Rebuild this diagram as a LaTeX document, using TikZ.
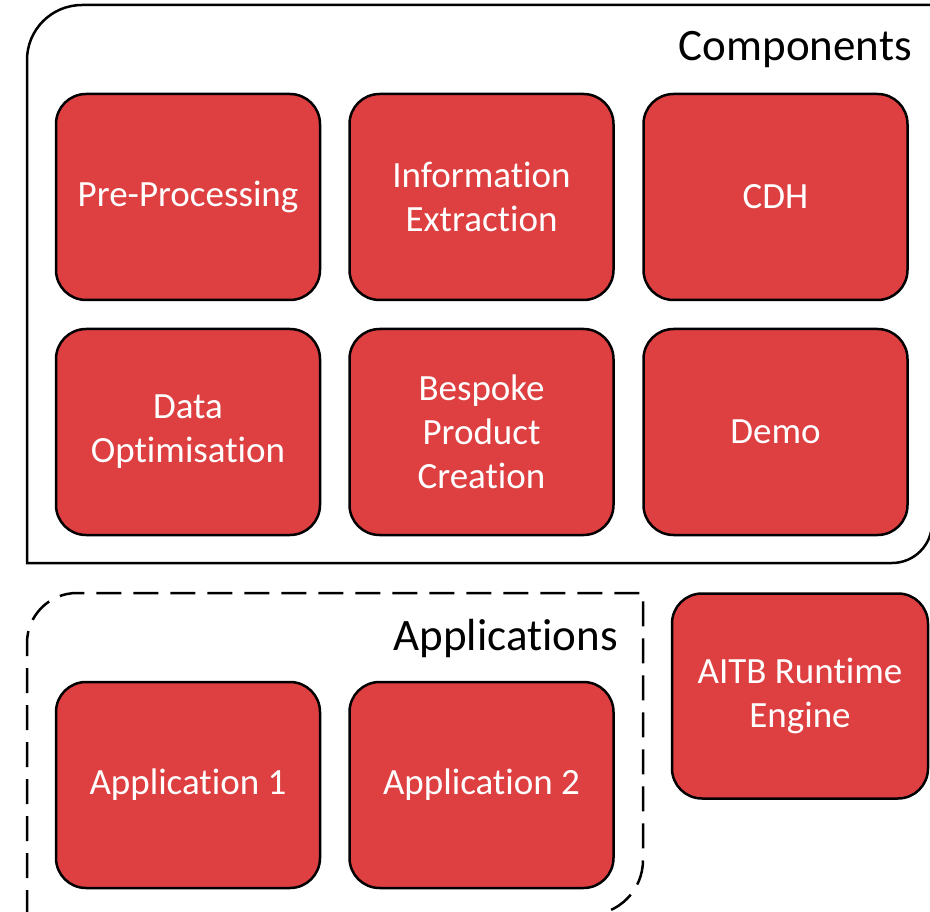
\documentclass[tikz,border=0pt]{standalone}
\usepackage{fontspec}
\setmainfont{Carlito}[Ligatures={CommonOff}, RawFeature={-calt}]
\definecolor{boxred}{RGB}{222,64,65}
\tikzset{
  compbox/.style={draw=black, fill=boxred, line width=2.5pt, rounded corners=30pt,
    minimum width=264pt, minimum height=206pt, inner sep=0pt, text=white, align=center,
    font=\fontsize{37}{44}\selectfont},
  grouptitle/.style={anchor=base east, inner sep=0pt, text=black,
    font=\fontsize{45}{54}\selectfont},
  groupline/.style={line width=2.5pt, draw=black},
}
\begin{document}
\begin{tikzpicture}[x=1pt, y=-1pt]
\useasboundingbox (0,0) rectangle (930,912);
\clip (0,0) rectangle (930,912);
% Components container
\draw[groupline] (27,563) -- (27,60) arc[start angle=180, end angle=270, radius=55]
  -- (932,5) -- (932,523) arc[start angle=0, end angle=90, radius=40] -- cycle;
\node[grouptitle] (comptitle) at (912,61) {Components};
% Applications container
\draw[groupline, dash pattern=on 25pt off 12pt] (27,915) -- (27,643)
  arc[start angle=180, end angle=270, radius=50]
  -- (643,593) -- (643,860) arc[start angle=0, end angle=90, radius=55] -- cycle;
\node[grouptitle] (apptitle) at (618,650) {Applications};
% Component boxes
\node[compbox] (pre)  at (188,197) {Pre-Processing};
\node[compbox] (info) at (481.5,197) {Information\\Extraction};
\node[compbox] (cdh)  at (775.5,197) {CDH};
\node[compbox] (dopt) at (188,432) {Data\\Optimisation};
\node[compbox] (besp) at (481.5,432) {Bespoke\\Product\\Creation};
\node[compbox] (demo) at (775.5,432) {Demo};
% Applications
\node[compbox] (app1) at (188,785) {Application 1};
\node[compbox] (app2) at (481.5,785) {Application 2};
% Runtime engine
\node[compbox, minimum width=256pt, minimum height=205pt] (aitb) at (800,696) {AITB Runtime\\Engine};
\end{tikzpicture}
\end{document}
